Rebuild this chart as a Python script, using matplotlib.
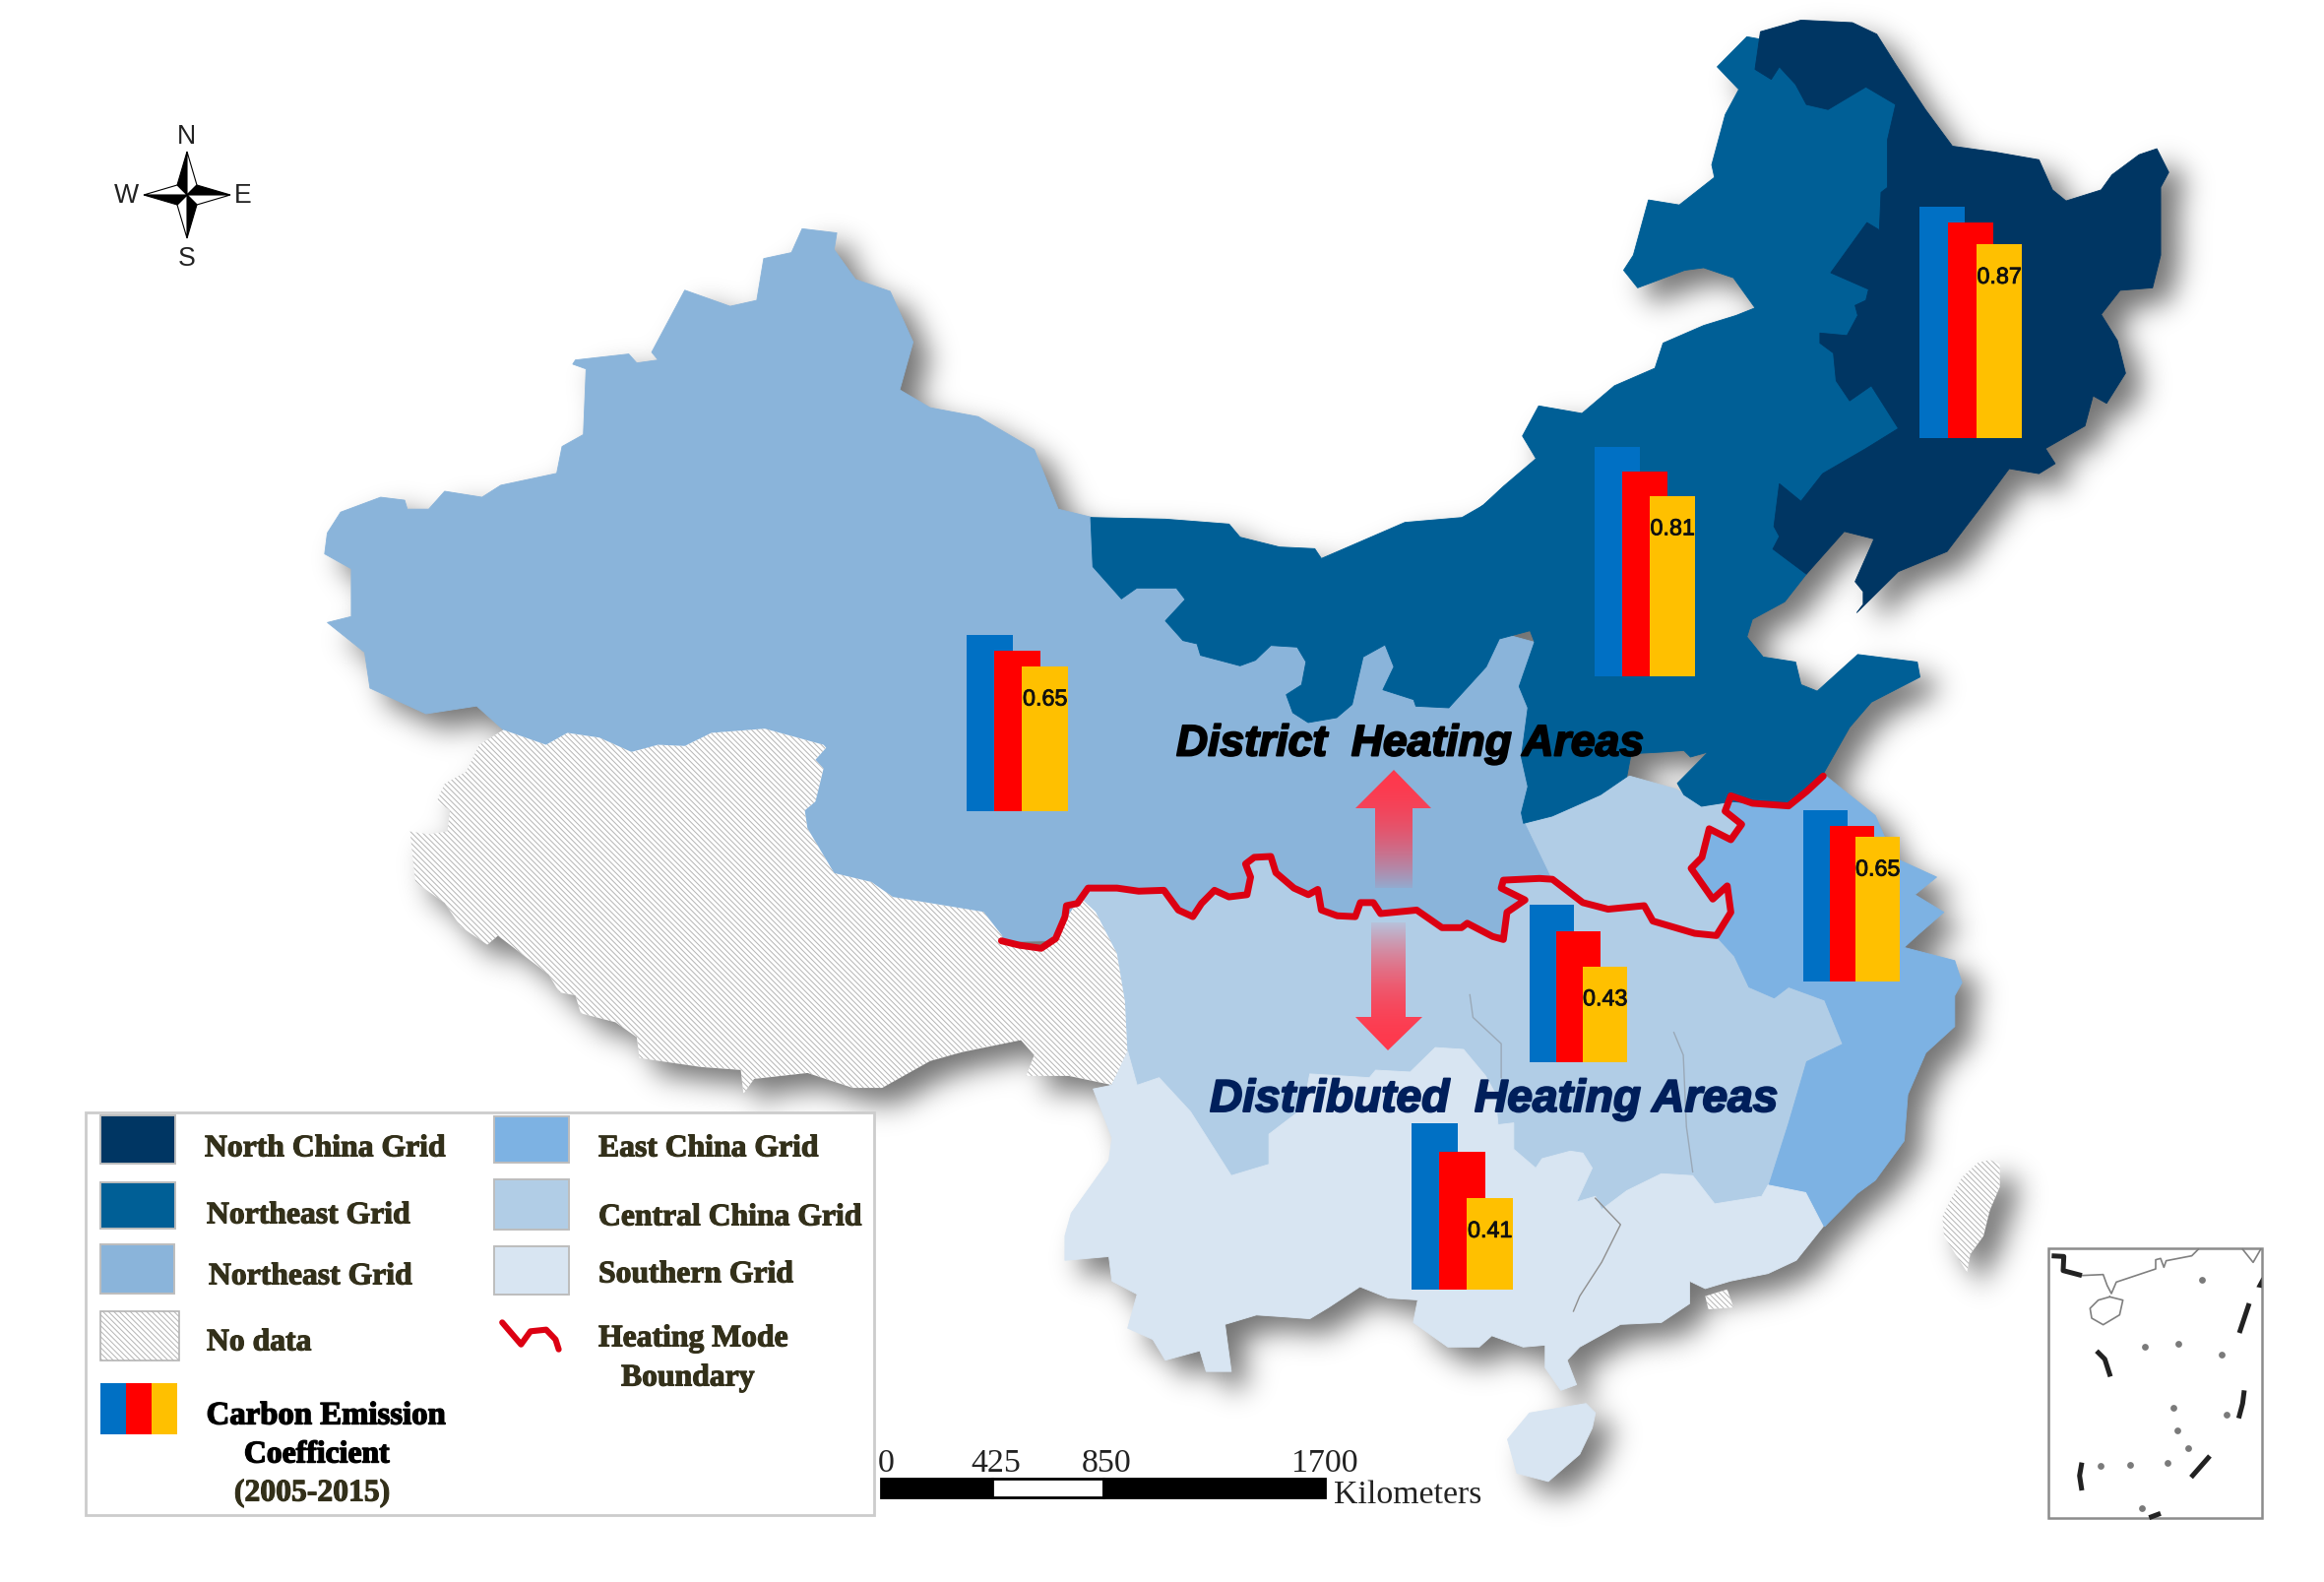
import matplotlib
matplotlib.use('Agg')
import matplotlib.pyplot as plt
import matplotlib.patheffects as pe
import numpy as np
from matplotlib.patches import Polygon, Rectangle
from matplotlib.path import Path

W, H = 2361, 1608

# colours of the grids
C_NORTH = '#003663'
C_NE = '#005F96'
C_NW = '#8AB4DA'
C_EAST = '#7DB2E3'
C_CENTRAL = '#B1CDE6'
C_SOUTH = '#D8E5F2'
C_HATCH = '#b4b4b4'
BAR_COLORS = ['#0070C4', '#FF0000', '#FFC000']
LINE_RED = '#DC0012'

# bar values: two earlier bars and the labelled coefficient
bar_groups = ['North China', 'Northeast', 'Northwest', 'East China', 'Central China', 'Southern']
bar_first = [1.04, 1.03, 0.79, 0.77, 0.71, 0.75]
bar_second = [0.97, 0.92, 0.72, 0.70, 0.59, 0.62]
bar_coef = [0.87, 0.81, 0.65, 0.65, 0.43, 0.41]
# left edge, base line, bar width, step
bar_left = [1950, 1620, 982, 1832, 1554, 1434]
bar_base = [446, 688, 825, 998, 1080, 1311]
bar_width = [46, 46, 47, 45, 45, 47]
bar_step = [29, 28, 28, 26.5, 27, 28]

scale_km = [0, 425, 850, 1700]

# outlines (one list per crop area)
nw_a = [(1325, 1250), (1290, 1230), (1120, 1200), (1010, 1160), (940, 1060), (900, 1000), (700, 1000), (390, 895),
        (340, 855), (245, 868), (140, 825), (130, 765), (60, 715),
        (105, 705), (105, 625), (55, 600), (60, 565), (85, 530), (160, 505), (205, 510), (210, 525), (250, 525),
        (280, 495), (350, 505), (385, 485), (490, 465), (500, 420), (540, 400), (545, 290), (520, 282), (525, 275),
        (625, 265), (640, 280), (680, 275), (668, 262), (730, 158), (815, 185), (865, 175), (878, 105), (930, 95),
        (950, 55), (1015, 62), (1010, 90), (1050, 140), (1115, 160), (1158, 245), (1133, 325), (1190, 355),
        (1280, 370), (1385, 425), (1430, 525), (1490, 538), (1550, 560)]
nw_b = [(1140, 610), (1180, 1340), (1180, 1500), (800, 1500)]

north_a = [(130, 230), (135, 380), (200, 478), (235, 445), (325, 445), (345, 480), (300, 545), (340, 605), (372, 615),
           (380, 650), (470, 682), (505, 665), (540, 620), (600, 625), (620, 670), (610, 740), (575, 770), (590, 825),
           (625, 855), (690, 840), (725, 800), (750, 655), (800, 618), (820, 685), (795, 755), (865, 785), (870, 805),
           (945, 810), (1030, 685), (1060, 600), (1130, 575), (1140, 610), (1105, 745), (1125, 810), (1110, 960),
           (1125, 1050), (1110, 1130), (1115, 1162), (1180, 1140), (1290, 1075), (1350, 1020), (1360, 950),
           (1430, 945), (1480, 940), (1495, 960), (1535, 945), (1465, 1040), (1480, 1075), (1520, 1110), (1568, 1100)]
north_b = [(1170, 258), (1200, 262), (1250, 270), (1298, 195)]
north_c = [(690, 1450), (730, 1400), (820, 1350), (815, 1320), (705, 1305), (630, 1378), (600, 1365), (590, 1320),
           (530, 1310), (500, 1270), (510, 1235), (570, 1200), (610, 1145), (700, 950), (850, 800), (800, 500),
           (775, 210), (700, 140), (600, 100), (525, 80), (500, 75), (445, 135), (485, 180), (460, 230), (435, 330),
           (440, 355), (375, 410), (318, 400), (290, 510), (272, 540), (298, 575), (385, 540), (420, 535), (475, 555),
           (515, 615), (480, 630), (420, 650), (345, 685), (330, 735), (255, 770), (195, 825), (115, 810), (85, 870),
           (110, 915), (50, 970), (0, 1020)]
north_d = [(1040, 180), (975, 230), (845, 245), (655, 355), (640, 325), (560, 320), (470, 290), (445, 250), (300, 235)]

northeast_dark = [(775, 210), (760, 280), (760, 375), (748, 385), (745, 460), (722, 445), (655, 545), (725, 578),
                  (720, 600), (700, 610), (705, 630), (685, 670), (635, 665), (635, 685), (660, 705), (665, 760),
                  (690, 800), (730, 770), (780, 855), (720, 895), (640, 945), (600, 1000), (560, 965), (550, 1050),
                  (560, 1070), (548, 1095), (610, 1145), (680, 1060), (735, 1075), (700, 1160), (715, 1180),
                  (715, 1205), (703, 1222), (780, 1140), (870, 1100), (930, 1015), (985, 935), (1040, 945),
                  (1070, 925), (1052, 895), (1125, 850), (1140, 790), (1165, 805), (1200, 745), (1185, 680),
                  (1155, 628), (1190, 580), (1250, 575), (1265, 510), (1265, 375), (1280, 345), (1258, 298),
                  (1225, 310), (1175, 350), (1155, 380), (1090, 402), (1065, 380), (1040, 320), (960, 305),
                  (880, 293), (830, 220), (775, 130), (740, 70), (695, 47), (600, 42), (525, 65), (515, 140),
                  (545, 160), (560, 135), (590, 170), (610, 210), (650, 220), (720, 175)]

red_line = [(160, 575), (185, 585), (215, 592), (235, 570), (248, 520), (250, 495), (265, 490), (280, 455), (320, 455),
            (350, 462), (385, 460), (405, 505), (425, 520), (437, 490), (455, 460), (475, 475), (500, 470), (505, 430),
            (498, 400), (510, 385), (533, 383), (540, 420), (565, 455), (585, 470), (598, 458), (603, 505), (625, 518),
            (650, 520), (657, 488), (675, 488), (685, 513), (735, 505), (770, 545), (797, 545), (805, 535), (840, 565),
            (855, 572), (860, 510), (885, 482), (852, 455), (855, 437), (905, 433), (923, 435), (965, 488), (1000, 503),
            (1050, 495), (1062, 530), (1120, 558), (1150, 563), (1170, 510), (1165, 450), (1145, 480), (1115, 410),
            (1130, 385), (1140, 320), (1170, 345), (1185, 310), (1162, 280), (1170, 245), (1200, 262), (1250, 268),
            (1275, 235), (1298, 200)]

central_tail = [(885, 305), (1030, 200), (1095, 230), (1130, 270), (1170, 258), (1250, 640), (1340, 750), (1340, 830),
                (1290, 1000), (1215, 1250), (900, 1250), (500, 1200), (340, 1000), (300, 870), (250, 700)]

east_shape = [(1298, 195), (1370, 290), (1395, 385), (1455, 430), (1425, 470), (1465, 510), (1430, 560), (1410, 590),
              (1480, 620), (1490, 670), (1480, 700), (1480, 770), (1440, 830), (1415, 925), (1410, 1030), (1370, 1120),
              (1345, 1150), (1300, 1225), (1222, 1135), (1250, 990), (1275, 850), (1325, 810), (1300, 710), (1250, 680),
              (1230, 705), (1195, 680), (1175, 610), (1150, 565), (1170, 510), (1165, 450), (1145, 480), (1115, 410),
              (1130, 385), (1140, 320), (1170, 345), (1185, 310), (1162, 280), (1170, 258), (1250, 270)]

tibet = [(390, 895), (470, 920), (510, 900), (570, 908), (630, 932), (680, 920), (730, 922), (780, 900), (880, 893),
         (990, 920), (995, 925), (975, 945), (990, 960), (975, 1015), (955, 1030), (960, 1060), (1010, 1135),
         (1080, 1150), (1120, 1175), (1290, 1200), (1325, 1240), (1325, 1252), (1400, 1262), (1440, 1220),
         (1470, 1175), (1500, 1200), (1540, 1270), (1555, 1350), (1560, 1440), (1530, 1490), (1450, 1475),
         (1370, 1475), (1385, 1440), (1360, 1415), (1250, 1435), (1190, 1450), (1100, 1495), (1045, 1495),
         (960, 1470), (860, 1480), (840, 1505), (835, 1465), (760, 1460), (645, 1445), (640, 1410), (600, 1385),
         (535, 1370), (525, 1340), (495, 1335), (475, 1305), (380, 1240), (360, 1255), (310, 1225), (280, 1185),
         (225, 1150), (215, 1065), (250, 1070), (285, 1065), (290, 1030), (265, 1015), (280, 985), (320, 965),
         (345, 920)]

south = [(150, 180), (165, 270), (200, 250), (250, 340), (315, 510), (375, 480), (375, 400), (430, 330), (440, 240),
         (535, 250), (545, 230), (600, 235), (640, 170), (685, 175), (720, 245), (735, 290), (740, 375), (765, 370),
         (765, 440), (800, 490), (810, 465), (855, 445), (875, 450), (890, 490), (865, 580), (895, 565), (905, 600),
         (945, 550), (1000, 505), (1050, 510), (1085, 585), (1160, 565), (1170, 535), (1230, 555), (1258, 645),
         (1215, 735), (1170, 770), (1110, 790), (1070, 810), (1045, 790), (1045, 850), (1000, 900), (935, 905),
         (870, 965), (850, 1000), (865, 1065), (840, 1080), (815, 1020), (815, 960), (780, 965), (730, 935),
         (710, 965), (660, 965), (605, 900), (612, 840), (565, 835), (520, 805), (470, 860), (440, 890), (400, 885),
         (355, 880), (305, 905), (315, 1030), (275, 1030), (265, 975), (210, 1000), (190, 945), (150, 915),
         (165, 825), (125, 790), (120, 725), (50, 735), (50, 670), (60, 610), (120, 470), (125, 410), (95, 280),
         (125, 270)]
hainan = [(880, 1115), (895, 1140), (890, 1180), (870, 1250), (820, 1322), (770, 1300), (755, 1210), (790, 1140)]
hk_patch = [(1070, 830), (1105, 812), (1115, 860), (1075, 865)]
province_lines = [[(695, 30), (700, 90), (745, 160), (745, 250)],
                  [(1020, 130), (1035, 190), (1040, 380), (1050, 500)],
                  [(895, 570), (935, 640), (905, 740), (870, 830), (860, 870)]]
taiwan = [(215, 88), (245, 100), (245, 170), (215, 240), (195, 320), (155, 375), (145, 430), (75, 320), (70, 260),
          (130, 140), (180, 95)]

# south china sea inset
inset_thick = [[(403, 380), (440, 382), (438, 425), (495, 440)], [(1005, 525), (975, 615)],
               [(540, 670), (565, 695), (582, 748)], [(990, 790), (985, 830), (973, 875)],
               [(885, 990), (828, 1055)], [(495, 1010), (488, 1050), (495, 1095)], [(700, 1178), (735, 1165)]]
inset_coast = [[(495, 440), (560, 437), (572, 470), (585, 495), (600, 460), (720, 420), (720, 392), (735, 388),
                (745, 415), (752, 395), (830, 380), (850, 360)],
               [(580, 505), (620, 515), (610, 560), (560, 590), (525, 570), (520, 540), (545, 515), (580, 505)],
               [(985, 360), (1017, 400), (1040, 360)]]
inset_dots = [(862, 452), (687, 657), (788, 648), (920, 681), (775, 844), (936, 863), (787, 911), (818, 967),
              (552, 1020), (643, 1017), (755, 1011), (677, 1150)]
legend_squiggle = [(800, 733), (830, 800), (845, 760), (870, 755), (885, 785), (890, 815)]

legend_labels = [('North China Grid', 208, 1168), ('Northeast Grid', 210, 1236), ('Northeast Grid', 212, 1298),
                 ('No data', 210, 1365), ('East China Grid', 608, 1168), ('Central China Grid', 608, 1238),
                 ('Southern Grid', 608, 1296), ('Heating Mode', 608, 1361), ('Boundary', 631, 1401)]


def crop(x0, y0, sx, sy, pts):
    # points read in a zoomed crop -> picture pixels
    return [(x0 + p[0] / sx, y0 + p[1] / sy) for p in pts]


z2 = lambda p: crop(1500, 0, 1.82, 1.96, p)
z3 = lambda p: crop(900, 700, 1.363, 2.24, p)
z4 = lambda p: crop(1950, 1150, 3, 3, p)
z6 = lambda p: crop(300, 200, 1.845, 1.65, p)
z7 = lambda p: crop(1050, 1000, 1.568, 2.613, p)
z8 = lambda p: crop(1050, 450, 2.24, 3, p)

shape_nw = z6(nw_a) + z8(nw_b)
shape_central = z3(red_line[6:43]) + z3(central_tail)
shape_east = z3(east_shape)
shape_tibet = z6(tibet)
shape_south = z7(south)
shape_hainan = z7(hainan)
shape_north = z8(north_a) + z3(north_b) + z2(north_c) + z8(north_d)
shape_dark = z2(northeast_dark)
shape_taiwan = z4(taiwan)

plt.rcParams['hatch.linewidth'] = 0.35
HATCH = '\\' * 12

fig = plt.figure(figsize=(W / 200, H / 200), dpi=200, facecolor='white')
ax = fig.add_axes([0, 0, 1, 1])

# drop shadow under the map
step = 3
gx, gy = np.meshgrid(np.arange(0, W, step), np.arange(0, H, step))
grid = np.column_stack([gx.ravel(), gy.ravel()])
mask = np.zeros(gx.size, dtype=bool)
for shape in [shape_nw, shape_central, shape_east, shape_tibet, shape_south, shape_hainan, shape_north, shape_dark,
              shape_taiwan]:
    mask |= Path(np.array(shape) + [16, 14]).contains_points(grid)
mask = mask.reshape(gx.shape).astype(float)
fy = np.fft.fftfreq(mask.shape[0], d=step)
fx = np.fft.rfftfreq(mask.shape[1], d=step)
sigma = 14
kernel = np.exp(-2 * (np.pi * sigma) ** 2 * (fy[:, None] ** 2 + fx[None, :] ** 2))
blur = np.fft.irfft2(np.fft.rfft2(mask) * kernel, s=mask.shape).clip(0, 1)
shadow = np.zeros(mask.shape + (4,))
shadow[..., 3] = blur * 0.55
ax.imshow(shadow, extent=(0, W, H, 0), aspect='auto', interpolation='bilinear', zorder=0)


def land(shape, color, z):
    ax.add_patch(Polygon(shape, closed=True, facecolor=color, edgecolor=color, linewidth=0.3, zorder=z))


def nodata(shape, z):
    ax.add_patch(Polygon(shape, closed=True, facecolor='white', edgecolor=C_HATCH, hatch=HATCH, linewidth=0, zorder=z))


land(shape_nw, C_NW, 1)
land(shape_central, C_CENTRAL, 1.1)
land(shape_east, C_EAST, 1.2)
nodata(shape_tibet, 1.3)
land(shape_south, C_SOUTH, 1.4)
land(shape_hainan, C_SOUTH, 1.4)
land(shape_north, C_NE, 1.5)
land(shape_dark, C_NORTH, 1.6)
nodata(shape_taiwan, 1.3)
nodata(z7(hk_patch), 1.3)

for seg, c in zip(province_lines, ['#9aa9b8', '#9aa9b8', '#8f8f8f']):
    pts = np.array(z7(seg))
    ax.plot(pts[:, 0], pts[:, 1], color=c, lw=0.5, zorder=1.7)

# heating boundary
pts = np.array(z3(red_line))
ax.plot(pts[:, 0], pts[:, 1], color=LINE_RED, lw=2.5, solid_joinstyle='round', solid_capstyle='round', zorder=3)

# small bars, same pixels per unit for all the groups
UNIT = 226
for i in range(len(bar_groups)):
    vals = [bar_first[i], bar_second[i], bar_coef[i]]
    for j, v in enumerate(vals):
        ax.bar(bar_left[i] + bar_width[i] / 2 + j * bar_step[i], v * UNIT, bar_width[i],
               bottom=bar_base[i] - v * UNIT, color=BAR_COLORS[j], linewidth=0, zorder=4 + j * 0.1)
    ax.text(bar_left[i] + bar_width[i] / 2 + 2 * bar_step[i], bar_base[i] - bar_coef[i] * UNIT + 33,
            '%.2f' % bar_coef[i], family='Liberation Sans', fontsize=8.4, ha='center', va='center', color='#111111',
            zorder=5, path_effects=[pe.withStroke(linewidth=0.3, foreground='#111111')])


# gradient arrows
def grad_arrow(outline, tip_top):
    y0, y1 = min(p[1] for p in outline), max(p[1] for p in outline)
    x0, x1 = min(p[0] for p in outline), max(p[0] for p in outline)
    t = np.linspace(0, 1, 128)
    ramp = 1 - 0.92 * t ** 2
    if not tip_top:
        ramp = ramp[::-1]
    img = np.zeros((128, 2, 4))
    img[..., 0] = 1.0
    img[..., 1] = 0.22
    img[..., 2] = 0.30
    img[..., 3] = ramp[:, None]
    im = ax.imshow(img, extent=(x0, x1, y1, y0), aspect='auto', interpolation='bilinear', zorder=3.5)
    im.set_clip_path(Polygon(outline, closed=True, transform=ax.transData))


grad_arrow([(1416, 783), (1454, 822), (1435, 822), (1435, 903), (1397, 903), (1397, 822), (1377, 822)], True)
grad_arrow([(1393, 938), (1428, 938), (1428, 1034), (1445, 1034), (1410, 1068), (1377, 1034), (1393, 1034)], False)

# area captions
ax.text(1195, 757, 'District  Heating Areas', family='Liberation Sans', weight='bold', style='italic', fontsize=16,
        color='black', va='center', ha='left', zorder=6,
        path_effects=[pe.withStroke(linewidth=0.7, foreground='black')])
ax.text(1229, 1118, 'Distributed  Heating Areas', family='Liberation Sans', weight='bold', style='italic',
        fontsize=16.6, color='#001F5B', va='center', ha='left', zorder=6,
        path_effects=[pe.withStroke(linewidth=0.7, foreground='#001F5B')])

# legend
heavy = [pe.withStroke(linewidth=0.4, foreground='#33301a')]
ax.add_patch(Rectangle((87, 1131), 801, 409, facecolor='white', edgecolor='#cccccc', linewidth=1.0, zorder=7))
swatches = [((102, 1134, 76, 49), C_NORTH), ((102, 1202, 76, 47), C_NE), ((102, 1265, 75, 50), C_NW),
            ((502, 1135, 76, 47), C_EAST), ((502, 1199, 76, 51), C_CENTRAL), ((502, 1267, 76, 49), C_SOUTH)]
for (x, y, w, h), c in swatches:
    ax.add_patch(Rectangle((x, y), w, h, facecolor=c, edgecolor='#bdbdbd', linewidth=0.7, zorder=8))
ax.add_patch(Rectangle((102, 1333), 80, 50, facecolor='white', edgecolor=C_HATCH, hatch=HATCH, linewidth=0.6, zorder=8))
for j, c in enumerate(BAR_COLORS):
    ax.add_patch(Rectangle((102 + j * 26, 1406), 26, 52, facecolor=c, linewidth=0, zorder=8))
pts = np.array(crop(0, 1100, 1.568, 3, legend_squiggle))
ax.plot(pts[:, 0], pts[:, 1], color=LINE_RED, lw=2.2, solid_capstyle='round', zorder=8)

for label, x, y in legend_labels:
    ax.text(x, y, label, family='Liberation Serif', weight='bold', fontsize=11.4, color='#33301a', va='center',
            ha='left', zorder=9, path_effects=heavy)
ax.text(331, 1439, 'Carbon Emission', family='Liberation Serif', weight='bold', fontsize=11.8, color='black',
        va='center', ha='center', zorder=9, path_effects=[pe.withStroke(linewidth=0.5, foreground='black')])
ax.text(322, 1479, 'Coefficient', family='Liberation Serif', weight='bold', fontsize=11.4, color='black', va='center',
        ha='center', zorder=9, path_effects=[pe.withStroke(linewidth=0.5, foreground='black')])
ax.text(317, 1518, '(2005-2015)', family='Liberation Serif', weight='bold', fontsize=11.4, color='#33301a', va='center',
        ha='center', zorder=9, path_effects=heavy)

# scale bar
KM_X0, KM_PX = 895, 451 / 1700
for k0, k1, fill in zip(scale_km[:-1], scale_km[1:], ['black', 'white', 'black']):
    ax.add_patch(Rectangle((KM_X0 + k0 * KM_PX, 1503), (k1 - k0) * KM_PX, 19, facecolor=fill, edgecolor='black',
                           linewidth=1.0, zorder=6))
for k, nudge in zip(scale_km, [5, 4, 4, 0]):
    ax.text(KM_X0 + k * KM_PX + nudge, 1487, str(k), family='Liberation Serif', fontsize=12.2, ha='center',
            va='center', color='#222222', zorder=6)
ax.text(1355, 1519, 'Kilometers', family='Liberation Serif', fontsize=12.2, ha='left', va='center', color='#222222',
        zorder=6)

# compass
cx, cy = 190, 199
arm, inner = 44, 10
for dx, dy in [(0, -1), (1, 0), (0, 1), (-1, 0)]:
    tip = (cx + dx * arm, cy + dy * arm)
    side_a = (cx + (dx - dy) * inner, cy + (dy + dx) * inner)
    side_b = (cx + (dx + dy) * inner, cy + (dy - dx) * inner)
    ax.add_patch(Polygon([(cx, cy), tip, side_b], closed=True, facecolor='black', edgecolor='black', linewidth=0.4,
                         zorder=6))
    ax.add_patch(Polygon([(cx, cy), tip, side_a], closed=True, facecolor='white', edgecolor='black', linewidth=0.4,
                         zorder=6))
for letter, x, y in [('N', 189, 139), ('W', 128, 199), ('E', 247, 199), ('S', 190, 263)]:
    ax.text(x, y, letter, family='Liberation Sans', fontsize=9.6, ha='center', va='center', color='#222222', zorder=6)

# inset box
ax.add_patch(Rectangle((2081, 1269), 217, 274, facecolor='white', edgecolor='#8c8c8c', linewidth=0.9, zorder=6))
for seg in inset_coast:
    pts = np.array(z4(seg))
    ax.plot(pts[:, 0], pts[:, 1], color='#808080', lw=0.6, zorder=7)
for seg in inset_thick:
    pts = np.array(z4(seg))
    ax.plot(pts[:, 0], pts[:, 1], color='#222222', lw=1.8, solid_capstyle='butt', zorder=7)
ax.add_patch(Polygon(z4([(1027, 475), (1043, 445), (1043, 478)]), closed=True, facecolor='#222222', linewidth=0, zorder=7))
pts = np.array(z4(inset_dots))
ax.scatter(pts[:, 0], pts[:, 1], s=6, color='#7a7a7a', linewidths=0, zorder=7)

ax.set_xlim(0, W)
ax.set_ylim(H, 0)
ax.axis('off')

fig.savefig('out.png', dpi=200, facecolor='white')
